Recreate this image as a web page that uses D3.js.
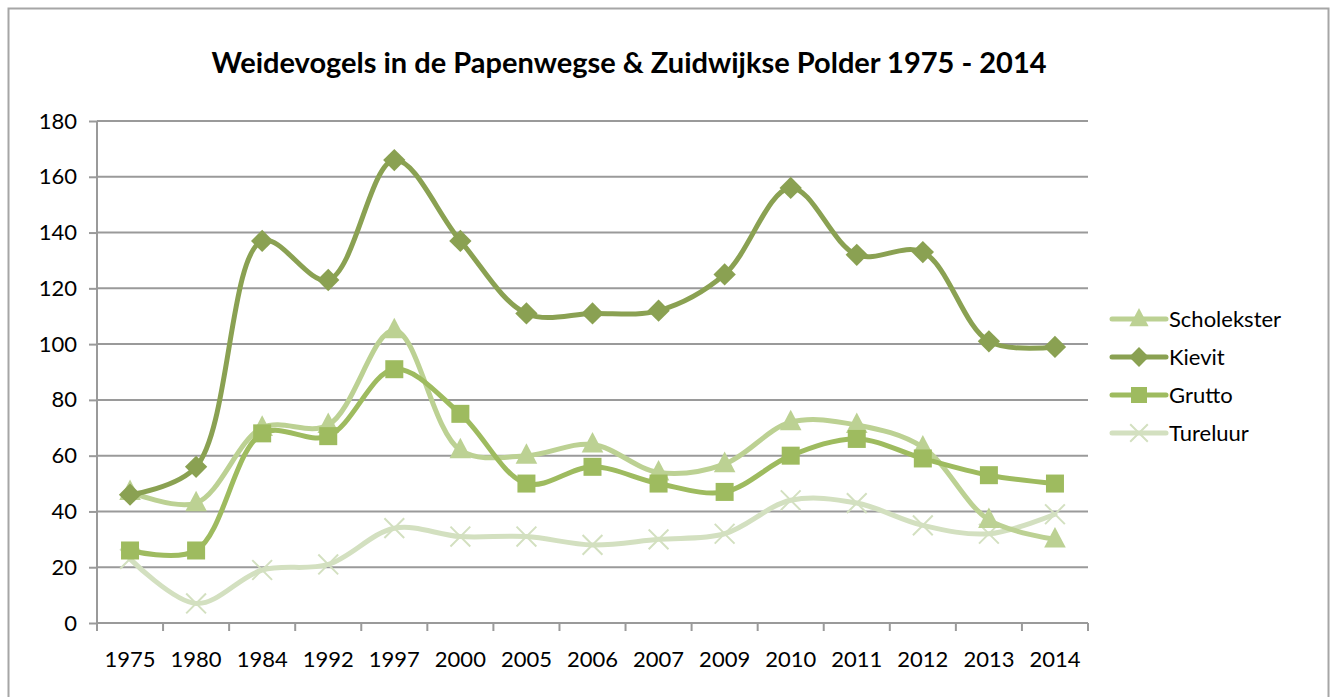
<!DOCTYPE html>
<html>
<head>
<meta charset="utf-8">
<script src="https://cdn.jsdelivr.net/npm/d3@7"></script>
<style>
  body { margin: 0; background: #fff; }
  text { font-family: Lato, "Open Sans", sans-serif; }
</style>
</head>
<body>
<div id="chart"></div>
<script>
// chart data
const years = ["1975", "1980", "1984", "1992", "1997", "2000", "2005", "2006", "2007", "2009", "2010", "2011", "2012", "2013", "2014"];
const scholekster = [47, 43, 70, 71, 105, 62, 60, 64, 54, 57, 72, 71, 63, 37, 30];
const kievit = [46, 56, 137, 123, 166, 137, 111, 111, 112, 125, 156, 132, 133, 101, 99];
const grutto = [26, 26, 68, 67, 91, 75, 50, 56, 50, 47, 60, 66, 59, 53, 50];
const tureluur = [23, 7, 19, 21, 34, 31, 31, 28, 30, 32, 44, 43, 35, 32, 39];
const yTicks = [0, 20, 40, 60, 80, 100, 120, 140, 160, 180];

const series = [
    { name: "Scholekster", values: scholekster, color: "#bcd193", symbol: "triangle" },
    { name: "Kievit", values: kievit, color: "#8aa152", symbol: "diamond" },
    { name: "Grutto", values: grutto, color: "#9ebb5f", symbol: "square" },
    { name: "Tureluur", values: tureluur, color: "#d3e0c0", symbol: "x" }
];
// drawing order: back to front
const drawOrder = ["Tureluur", "Scholekster", "Grutto", "Kievit"];

const W = 1336, H = 697;
const margin = { top: 121, right: 248, bottom: 74, left: 97 };
const width = W - margin.left - margin.right;
const height = H - margin.top - margin.bottom;

const svg = d3.select("#chart").append("svg")
    .attr("width", W)
    .attr("height", H);

// outer frame
svg.append("rect")
    .attr("x", 8.5).attr("y", 8.5)
    .attr("width", 1320).attr("height", 700)
    .attr("fill", "none")
    .attr("stroke", "#a6a6a6")
    .attr("stroke-width", 2);

svg.append("text")
    .attr("x", 629).attr("y", 73)
    .attr("text-anchor", "middle")
    .style("font-size", "29px")
    .style("font-weight", "bold")
    .text("Weidevogels in de Papenwegse & Zuidwijkse Polder 1975 - 2014");

const g = svg.append("g")
    .attr("transform", `translate(${margin.left},${margin.top})`);

const x = d3.scaleBand().domain(years).range([0, width]);
const y = d3.scaleLinear().domain([0, 180]).range([height, 0]);

// gridlines
g.selectAll(".grid")
    .data(yTicks.filter(d => d > 0))
    .enter().append("line")
    .attr("x1", 0).attr("x2", width)
    .attr("y1", d => y(d)).attr("y2", d => y(d))
    .attr("stroke", "#9a9a9a")
    .attr("stroke-width", 2);

const yAxis = g.append("g")
    .call(d3.axisLeft(y).tickValues(yTicks).tickSize(8).tickPadding(12));
const xAxis = g.append("g")
    .attr("transform", `translate(0,${height})`)
    .call(d3.axisBottom(x).tickSize(0).tickPadding(28));

// x ticks on band edges
g.selectAll(".xtick")
    .data(years.concat(["end"]))
    .enter().append("line")
    .attr("x1", (d, i) => i * x.bandwidth())
    .attr("x2", (d, i) => i * x.bandwidth())
    .attr("y1", height).attr("y2", height + 8)
    .attr("stroke", "#9a9a9a")
    .attr("stroke-width", 2);

[yAxis, xAxis].forEach(ax => {
    ax.selectAll("path, line").attr("stroke", "#9a9a9a").attr("stroke-width", 2);
    ax.selectAll("text").style("font-size", "22px").attr("fill", "#000");
});
xAxis.select(".domain").remove();
g.append("line")
    .attr("x1", 0).attr("x2", width)
    .attr("y1", height).attr("y2", height)
    .attr("stroke", "#9a9a9a").attr("stroke-width", 2);
yAxis.select(".domain").remove();
g.append("line")
    .attr("x1", 0).attr("x2", 0)
    .attr("y1", 0).attr("y2", height + 8)
    .attr("stroke", "#9a9a9a").attr("stroke-width", 2);

const line = d3.line()
    .x((d, i) => x(years[i]) + x.bandwidth() / 2)
    .y(d => y(d))
    .curve(d3.curveCatmullRom.alpha(0.5));

function drawMarker(sel, symbol, color, size) {
    if (symbol === "x") {
        const s = size * 0.55;
        sel.append("path")
            .attr("d", `M${-s},${-s}L${s},${s}M${-s},${s}L${s},${-s}`)
            .attr("stroke", color)
            .attr("stroke-width", 2)
            .attr("fill", "none");
    } else if (symbol === "square") {
        sel.append("rect")
            .attr("x", -size / 2).attr("y", -size / 2)
            .attr("width", size).attr("height", size)
            .attr("fill", color);
    } else if (symbol === "diamond") {
        const s = size * 0.62;
        sel.append("path")
            .attr("d", `M0,${-s}L${s},0L0,${s}L${-s},0Z`)
            .attr("fill", color);
    } else {
        const s = size * 0.6;
        sel.append("path")
            .attr("d", `M0,${-s * 1.15}L${s},${s * 0.75}L${-s},${s * 0.75}Z`)
            .attr("fill", color);
    }
}

drawOrder.forEach(name => {
    const s = series.find(d => d.name === name);
    g.append("path")
        .datum(s.values)
        .attr("fill", "none")
        .attr("stroke", s.color)
        .attr("stroke-width", 5)
        .attr("stroke-linecap", "round")
        .attr("d", line);
    s.values.forEach((v, i) => {
        const m = g.append("g")
            .attr("transform", `translate(${x(years[i]) + x.bandwidth() / 2},${y(v)})`);
        drawMarker(m, s.symbol, s.color, 18);
    });
});

// legend
const legend = svg.append("g").attr("transform", "translate(1112,319)");
series.forEach((s, i) => {
    const row = legend.append("g").attr("transform", `translate(0,${i * 38})`);
    row.append("line")
        .attr("x1", 0).attr("x2", 54)
        .attr("stroke", s.color)
        .attr("stroke-width", 5)
        .attr("stroke-linecap", "round");
    const m = row.append("g").attr("transform", "translate(27,0)");
    drawMarker(m, s.symbol, s.color, 16);
    row.append("text")
        .attr("x", 57).attr("y", 8)
        .style("font-size", "22px")
        .text(s.name);
});
</script>
</body>
</html>
